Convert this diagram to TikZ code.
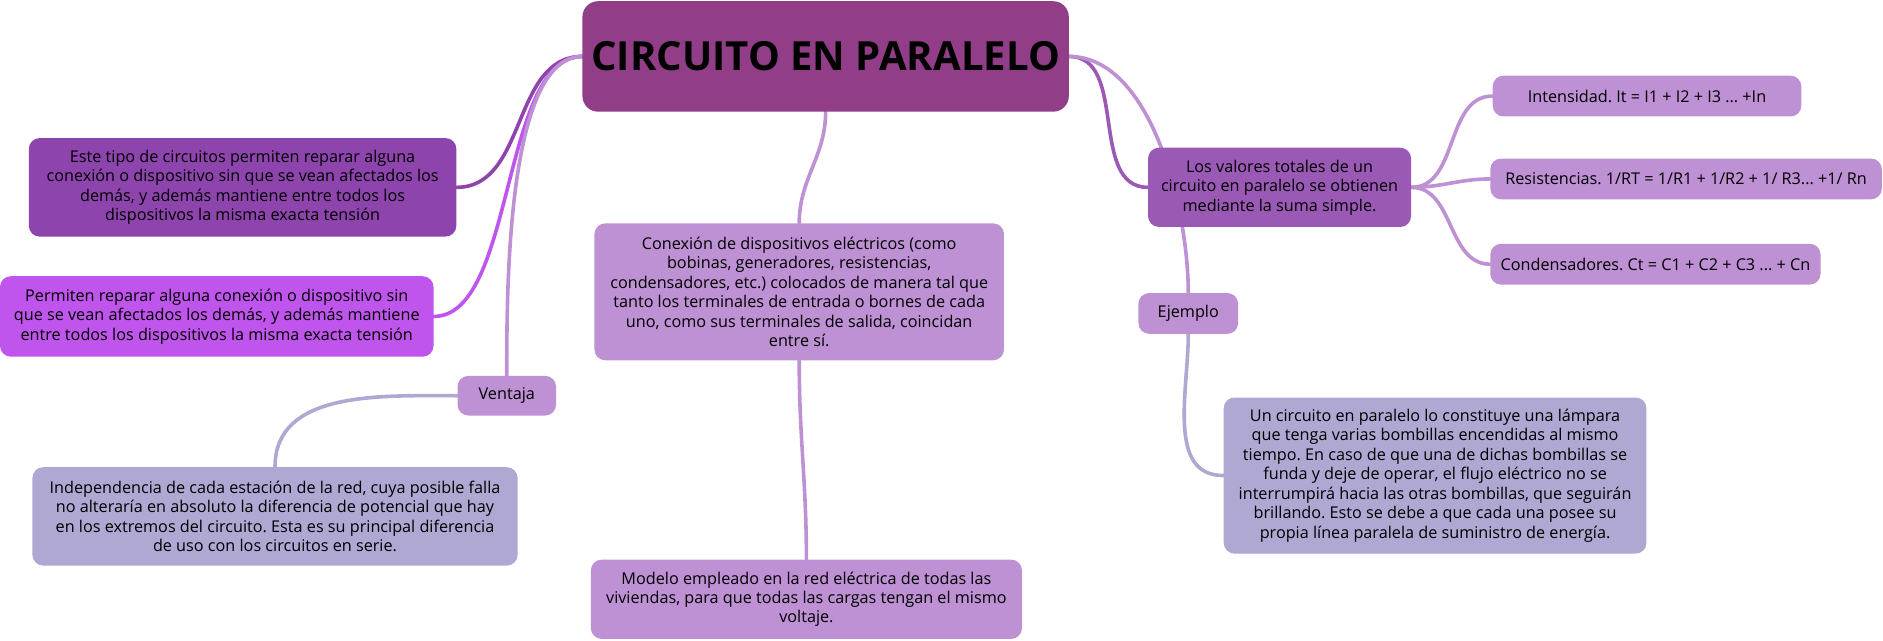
\documentclass[tikz,border=0pt]{standalone}
\usepackage{fontspec}
\setmainfont{Open Sans}
\usetikzlibrary{backgrounds}
\frenchspacing

\definecolor{plum}{HTML}{913D88}
\definecolor{wisteria}{HTML}{8E44AD}
\definecolor{mediumpurple}{HTML}{BF55EC}
\definecolor{amethyst}{HTML}{9B59B6}
\definecolor{lightwisteria}{HTML}{BE90D4}
\definecolor{wistful}{HTML}{AEA8D3}

\begin{document}
\begin{tikzpicture}[x=1pt,y=1pt,
    topic/.style={rounded corners=9pt,align=center,inner sep=3pt,
      font=\fontsize{13.5}{16.2}\selectfont},
    branch/.style={line width=3pt,line cap=round}]
  \useasboundingbox (0,0) rectangle (1568,-533);
  \node[topic,fill=plum,rounded corners=13pt,minimum width=405pt,
    minimum height=92pt,font=\fontsize{33.4}{40}\selectfont\bfseries]
    (root) at (687.5,-47) {CIRCUITO EN PARALELO};
  \node[topic,fill=wisteria,minimum width=356pt,minimum height=82pt]
    (reparar) at (202,-156) {Este tipo de circuitos permiten reparar alguna\\
    conexión o dispositivo sin que se vean afectados los\\
    demás, y además mantiene entre todos los\\
    dispositivos la misma exacta tensión};
  \node[topic,fill=mediumpurple,minimum width=361pt,minimum height=67pt]
    (tension) at (180.5,-263.5) {Permiten reparar alguna conexión o dispositivo sin\\
    que se vean afectados los demás, y además mantiene\\
    entre todos los dispositivos la misma exacta tensión};
  \node[topic,fill=lightwisteria,minimum width=82pt,minimum height=33pt]
    (ventaja) at (422,-329.5) {Ventaja};
  \node[topic,fill=wistful,minimum width=404pt,minimum height=82pt]
    (indep) at (229,-430) {Independencia de cada estación de la red, cuya posible falla\\
    no alteraría en absoluto la diferencia de potencial que hay\\
    en los extremos del circuito. Esta es su principal diferencia\\
    de uso con los circuitos en serie.};
  \node[topic,fill=lightwisteria,minimum width=341pt,minimum height=114pt]
    (conexion) at (665.5,-243) {Conexión de dispositivos eléctricos (como\\
    bobinas, generadores, resistencias,\\
    condensadores, etc.) colocados de manera tal que\\
    tanto los terminales de entrada o bornes de cada\\
    uno, como sus terminales de salida, coincidan\\
    entre sí.};
  \node[topic,fill=lightwisteria,minimum width=359pt,minimum height=66pt]
    (modelo) at (671.5,-499) {Modelo empleado en la red eléctrica de todas las\\
    viviendas, para que todas las cargas tengan el mismo\\
    voltaje.};
  \node[topic,fill=amethyst,minimum width=219pt,minimum height=66pt]
    (valores) at (1065.5,-156) {Los valores totales de un\\
    circuito en paralelo se obtienen\\
    mediante la suma simple.};
  \node[topic,fill=lightwisteria,minimum width=257pt,minimum height=34pt]
    (intens) at (1371.5,-80) {Intensidad. It = I1 + I2 + I3 ... +In};
  \node[topic,fill=lightwisteria,minimum width=326pt,minimum height=34pt]
    (resist) at (1404,-149) {Resistencias. 1/RT = 1/R1 + 1/R2 + 1/ R3... +1/ Rn};
  \node[topic,fill=lightwisteria,minimum width=275pt,minimum height=34pt]
    (conden) at (1378.5,-220) {Condensadores. Ct = C1 + C2 + C3 ... + Cn};
  \node[topic,fill=lightwisteria,minimum width=83pt,minimum height=34pt]
    (ejemplo) at (989.5,-261) {Ejemplo};
  \node[topic,fill=wistful,minimum width=352pt,minimum height=130pt]
    (lampara) at (1195,-396) {Un circuito en paralelo lo constituye una lámpara\\
    que tenga varias bombillas encendidas al mismo\\
    tiempo. En caso de que una de dichas bombillas se\\
    funda y deje de operar, el flujo eléctrico no se\\
    interrumpirá hacia las otras bombillas, que seguirán\\
    brillando. Esto se debe a que cada una posee su\\
    propia línea paralela de suministro de energía.};
  \begin{scope}[on background layer]
  \path[branch] (root.west) edge[draw=wisteria,out=180,in=0] (reparar.east)
  edge[draw=mediumpurple,out=180,in=0,looseness=0.7] (tension.east)
  edge[draw=lightwisteria,out=180,in=90,looseness=0.6] (ventaja.north)
  (root.south) edge[draw=lightwisteria,out=-90,in=90] (conexion.north)
  (conexion.south) edge[draw=lightwisteria,out=-90,in=90] (modelo.north)
  (root.east) edge[draw=amethyst,out=0,in=180] (valores.west)
  edge[draw=lightwisteria,out=0,in=90,looseness=0.8] (ejemplo.north)
  (valores.east) edge[draw=lightwisteria,out=0,in=180] (intens.west)
  edge[draw=lightwisteria,out=0,in=180] (resist.west)
  edge[draw=lightwisteria,out=0,in=180] (conden.west)
  (ventaja.west) edge[draw=wistful,out=180,in=90] (indep.north)
  (ejemplo.south) edge[draw=wistful,out=-90,in=180] (lampara.west);
  \end{scope}
\end{tikzpicture}
\end{document}
